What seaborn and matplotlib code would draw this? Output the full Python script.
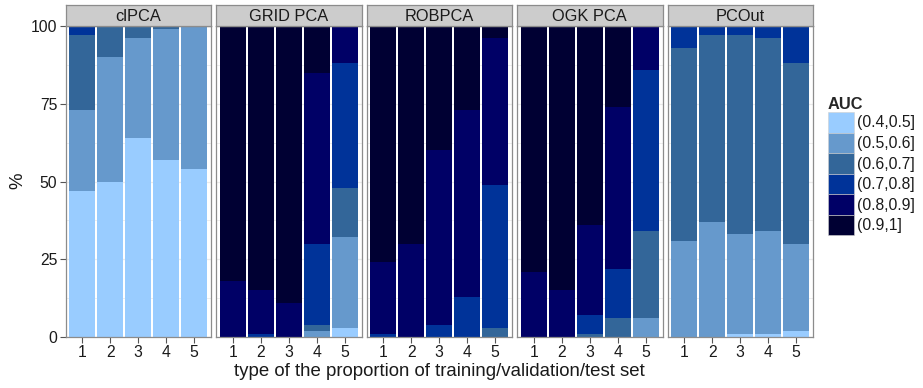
import matplotlib
matplotlib.use("Agg")
import matplotlib.pyplot as plt
from matplotlib.patches import Patch
import numpy as np
import pandas as pd
import seaborn as sns

# Share of runs (%) falling in each AUC interval, per method and split type
methods = ["clPCA", "GRID PCA", "ROBPCA", "OGK PCA", "PCOut"]
configs = [1, 2, 3, 4, 5]
auc_levels = ["(0.4,0.5]", "(0.5,0.6]", "(0.6,0.7]", "(0.7,0.8]", "(0.8,0.9]", "(0.9,1]"]
auc_colors = ["#99CCFF", "#6699CC", "#336699", "#003399", "#000066", "#000033"]

clpca = [
    [47, 50, 64, 57, 54],
    [26, 40, 32, 42, 46],
    [24, 10, 4, 1, 0],
    [3, 0, 0, 0, 0],
    [0, 0, 0, 0, 0],
    [0, 0, 0, 0, 0],
]
grid_pca = [
    [0, 0, 0, 0, 3],
    [0, 0, 0, 2, 29],
    [0, 0, 0, 2, 16],
    [0, 1, 0, 26, 40],
    [18, 14, 11, 55, 12],
    [82, 85, 89, 15, 0],
]
robpca = [
    [0, 0, 0, 0, 0],
    [0, 0, 0, 0, 0],
    [0, 0, 0, 0, 3],
    [1, 0, 4, 13, 46],
    [23, 30, 56, 60, 47],
    [76, 70, 40, 27, 4],
]
ogk_pca = [
    [0, 0, 0, 0, 0],
    [0, 0, 0, 0, 6],
    [0, 0, 1, 6, 28],
    [0, 0, 6, 16, 52],
    [21, 15, 29, 52, 14],
    [79, 85, 64, 26, 0],
]
pcout = [
    [0, 0, 1, 1, 2],
    [31, 37, 32, 33, 28],
    [62, 60, 64, 62, 58],
    [7, 3, 3, 4, 12],
    [0, 0, 0, 0, 0],
    [0, 0, 0, 0, 0],
]
y_ticks = [0, 25, 50, 75, 100]

tables = dict(zip(methods, [clpca, grid_pca, robpca, ogk_pca, pcout]))
rows = []
for m in methods:
    for lvl, vals in zip(auc_levels, tables[m]):
        for c, v in zip(configs, vals):
            rows.append({"method": m, "config": c, "AUC": lvl, "pct": v})
df = pd.DataFrame(rows)

sns.set_theme(style="white")
plt.rcParams["font.family"] = ["Liberation Sans", "DejaVu Sans"]
text_col = "#1a1a1a"
border_col = "#8c8c8c"

W, H = 923, 388
fig = plt.figure(figsize=(W / 100, H / 100), dpi=100)

palette = dict(zip(auc_levels, auc_colors))
left0, pw, gap = 65.5, 145.5, 5.0
top_px, bot_px, strip_px = 26.0, 337.0, 21.0
tick_fs = 11.3

for i, m in enumerate(methods):
    lx = left0 + i * (pw + gap)
    ax = fig.add_axes([lx / W, 1 - bot_px / H, pw / W, (bot_px - top_px) / H])
    ax.set_facecolor("white")
    # light grid
    for yv in np.arange(0, 101, 12.5):
        ax.axhline(yv, color="#EBEBEB", lw=0.6 if yv % 25 else 0.9, zorder=0)
    for xv in configs:
        ax.axvline(xv, color="#EBEBEB", lw=0.9, zorder=0)
    sub = df[df["method"] == m]
    sns.histplot(
        data=sub, x="config", weights="pct", hue="AUC",
        hue_order=auc_levels[::-1], palette=palette,
        multiple="stack", discrete=True, shrink=0.93,
        alpha=1, linewidth=0, legend=False, ax=ax, zorder=2,
    )
    ax.set_xlim(0.4, 5.6)
    ax.set_ylim(0, 100)
    ax.set_xticks(configs)
    ax.set_xticklabels([str(c) for c in configs])
    ax.set_xlabel("")
    ax.set_ylabel("")
    ax.grid(False)
    for s in ax.spines.values():
        s.set_color(border_col)
        s.set_linewidth(0.9)
    ax.tick_params(axis="x", length=4, width=0.8, color="#555555", pad=2,
                   labelsize=tick_fs, labelcolor=text_col, bottom=True)
    if i == 0:
        ax.set_yticks(y_ticks)
        ax.set_yticklabels([str(t) for t in y_ticks])
        ax.tick_params(axis="y", length=4, width=0.8, color="#555555", pad=2,
                       labelsize=tick_fs, labelcolor=text_col, left=True)
    else:
        ax.set_yticks(y_ticks)
        ax.tick_params(axis="y", length=0, labelleft=False)

    # facet strip
    sax = fig.add_axes([lx / W, 1 - top_px / H, pw / W, strip_px / H])
    sax.set_xlim(0, 1)
    sax.set_ylim(0, 1)
    sax.set_facecolor("#CCCCCC")
    sax.set_xticks([])
    sax.set_yticks([])
    for s in sax.spines.values():
        s.set_color(border_col)
        s.set_linewidth(0.9)
    sax.text(0.5, 0.47, m, ha="center", va="center", fontsize=11.8, color=text_col)

fig.text((left0 + (5 * pw + 4 * gap) / 2) / W, 1 - 372 / H,
         "type of the proportion of training/validation/test set",
         ha="center", va="center", fontsize=13.4, color=text_col)
fig.text(18 / W, 1 - 181 / H, "%", rotation=90, ha="center", va="center",
         fontsize=13.4, color=text_col)

handles = [Patch(facecolor=c, edgecolor="#d0d0d0", linewidth=0.4) for c in auc_colors]
leg = fig.legend(handles, auc_levels, title="AUC", loc="upper left",
                 bbox_to_anchor=(828 / W, 1 - 97 / H), frameon=False,
                 fontsize=tick_fs, title_fontsize=11.8,
                 handlelength=1.66, handleheight=1.64, labelspacing=0.0,
                 handletextpad=0.2, borderaxespad=0, borderpad=0)
leg.get_title().set_fontweight("bold")
leg._legend_box.align = "left"
for t in leg.get_texts():
    t.set_color(text_col)

fig.savefig("out.png", dpi=100)
